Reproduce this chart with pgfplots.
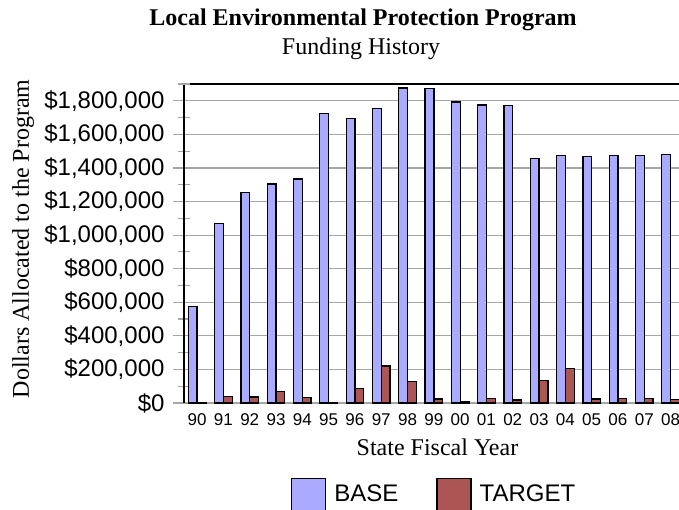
\documentclass[border=0pt]{standalone}
\usepackage{pgfplots}
\pgfplotsset{compat=1.18}
\usepackage{fontspec}
\setmainfont{Liberation Serif}
\setsansfont{Liberation Sans}
\definecolor{basec}{RGB}{170,170,255}
\definecolor{targc}{RGB}{172,85,85}
\pgfplotsset{mylegend/.style={legend image code/.code={\draw[##1] (0bp,-18.6bp) rectangle (34bp,15.4bp);}}}
\begin{document}
\begin{tikzpicture}
\begin{axis}[
  at={(0,0)}, anchor=south west,
  scale only axis,
  width=499.7bp, height=319bp,
  xmin=-0.5, xmax=18.5,
  ymin=0, ymax=1900000,
  ybar=0pt, bar width=8.8bp,
  axis x line=bottom, axis y line=left,
  axis line style={-},
  x axis line style={gray!70, line width=1.3bp},
  y axis line style={black, line width=1.5bp},
  xtick=\empty,
  minor xtick={-0.5,0.5,...,18.5},
  extra x ticks={0,1,...,18},
  extra x tick labels={90,91,92,93,94,95,96,97,98,99,00,01,02,03,04,05,06,07,08},
  extra x tick style={major tick length=0pt, grid=none},
  ytick={0,200000,...,1800000},
  yticklabels={{\$0},{\$200,000},{\$400,000},{\$600,000},{\$800,000},{\$1,000,000},{\$1,200,000},{\$1,400,000},{\$1,600,000},{\$1,800,000}},
  scaled y ticks=false,
  minor y tick num=1,
  tick align=center,
  major tick length=22bp,
  minor tick length=12bp,
  tick style={gray!70, line width=1.2bp},
  ymajorgrids,
  major grid style={gray!70, line width=1.2bp},
  extra y ticks={1900000},
  extra y tick labels={},
  extra y tick style={major tick length=12bp, major grid style={black, line width=1.3bp}},
  x tick label style={font=\sffamily\fontsize{17bp}{17bp}\selectfont, yshift=-7bp},
  y tick label style={font=\sffamily\fontsize{24bp}{24bp}\selectfont, xshift=-5bp},
  legend style={draw=none, fill=none, inner sep=0pt, outer sep=0pt,
    at={(0.2141,-0.2351)}, anchor=north west, legend columns=2,
    font=\sffamily\fontsize{24bp}{24bp}\selectfont,
    nodes={inner sep=0pt},
    /tikz/every odd column/.append style={column sep=8bp},
    /tikz/every even column/.append style={column sep=38bp}},
  legend cell align=left,
]
\addplot[fill=basec, draw=black, line width=1.3bp, mylegend] coordinates {
(0,573000) (1,1068000) (2,1252000) (3,1305000) (4,1335000) (5,1723000) (6,1693000) (7,1755000) (8,1877000) (9,1875000) (10,1793000) (11,1775000) (12,1773000) (13,1457000) (14,1473000) (15,1469000) (16,1475000) (17,1475000) (18,1481000)};
\addlegendentry{BASE}
\addplot[fill=targc, draw=black, line width=1.3bp, mylegend] coordinates {
(0,4000) (1,40000) (2,36000) (3,67000) (4,34000) (5,3000) (6,87000) (7,220000) (8,128000) (9,24000) (10,6000) (11,25000) (12,17000) (13,132000) (14,204000) (15,23000) (16,27000) (17,27000) (18,22000)};
\addlegendentry{TARGET}
\end{axis}
\node[anchor=base, font=\bfseries\fontsize{24bp}{24bp}\selectfont] at (179bp,377.5bp) {Local Environmental Protection Program};
\node[anchor=base, font=\fontsize{24bp}{24bp}\selectfont] at (177bp,348bp) {Funding History};
\node[anchor=base, font=\fontsize{24bp}{24bp}\selectfont] at (253.5bp,-52bp) {State Fiscal Year};
\node[anchor=base, rotate=90, font=\fontsize{24bp}{24bp}\selectfont] at (-155bp,164bp) {Dollars Allocated to the Program};
\pgfresetboundingbox
\useasboundingbox (-184bp,-107bp) rectangle (495bp,403bp);
\end{tikzpicture}
\end{document}
